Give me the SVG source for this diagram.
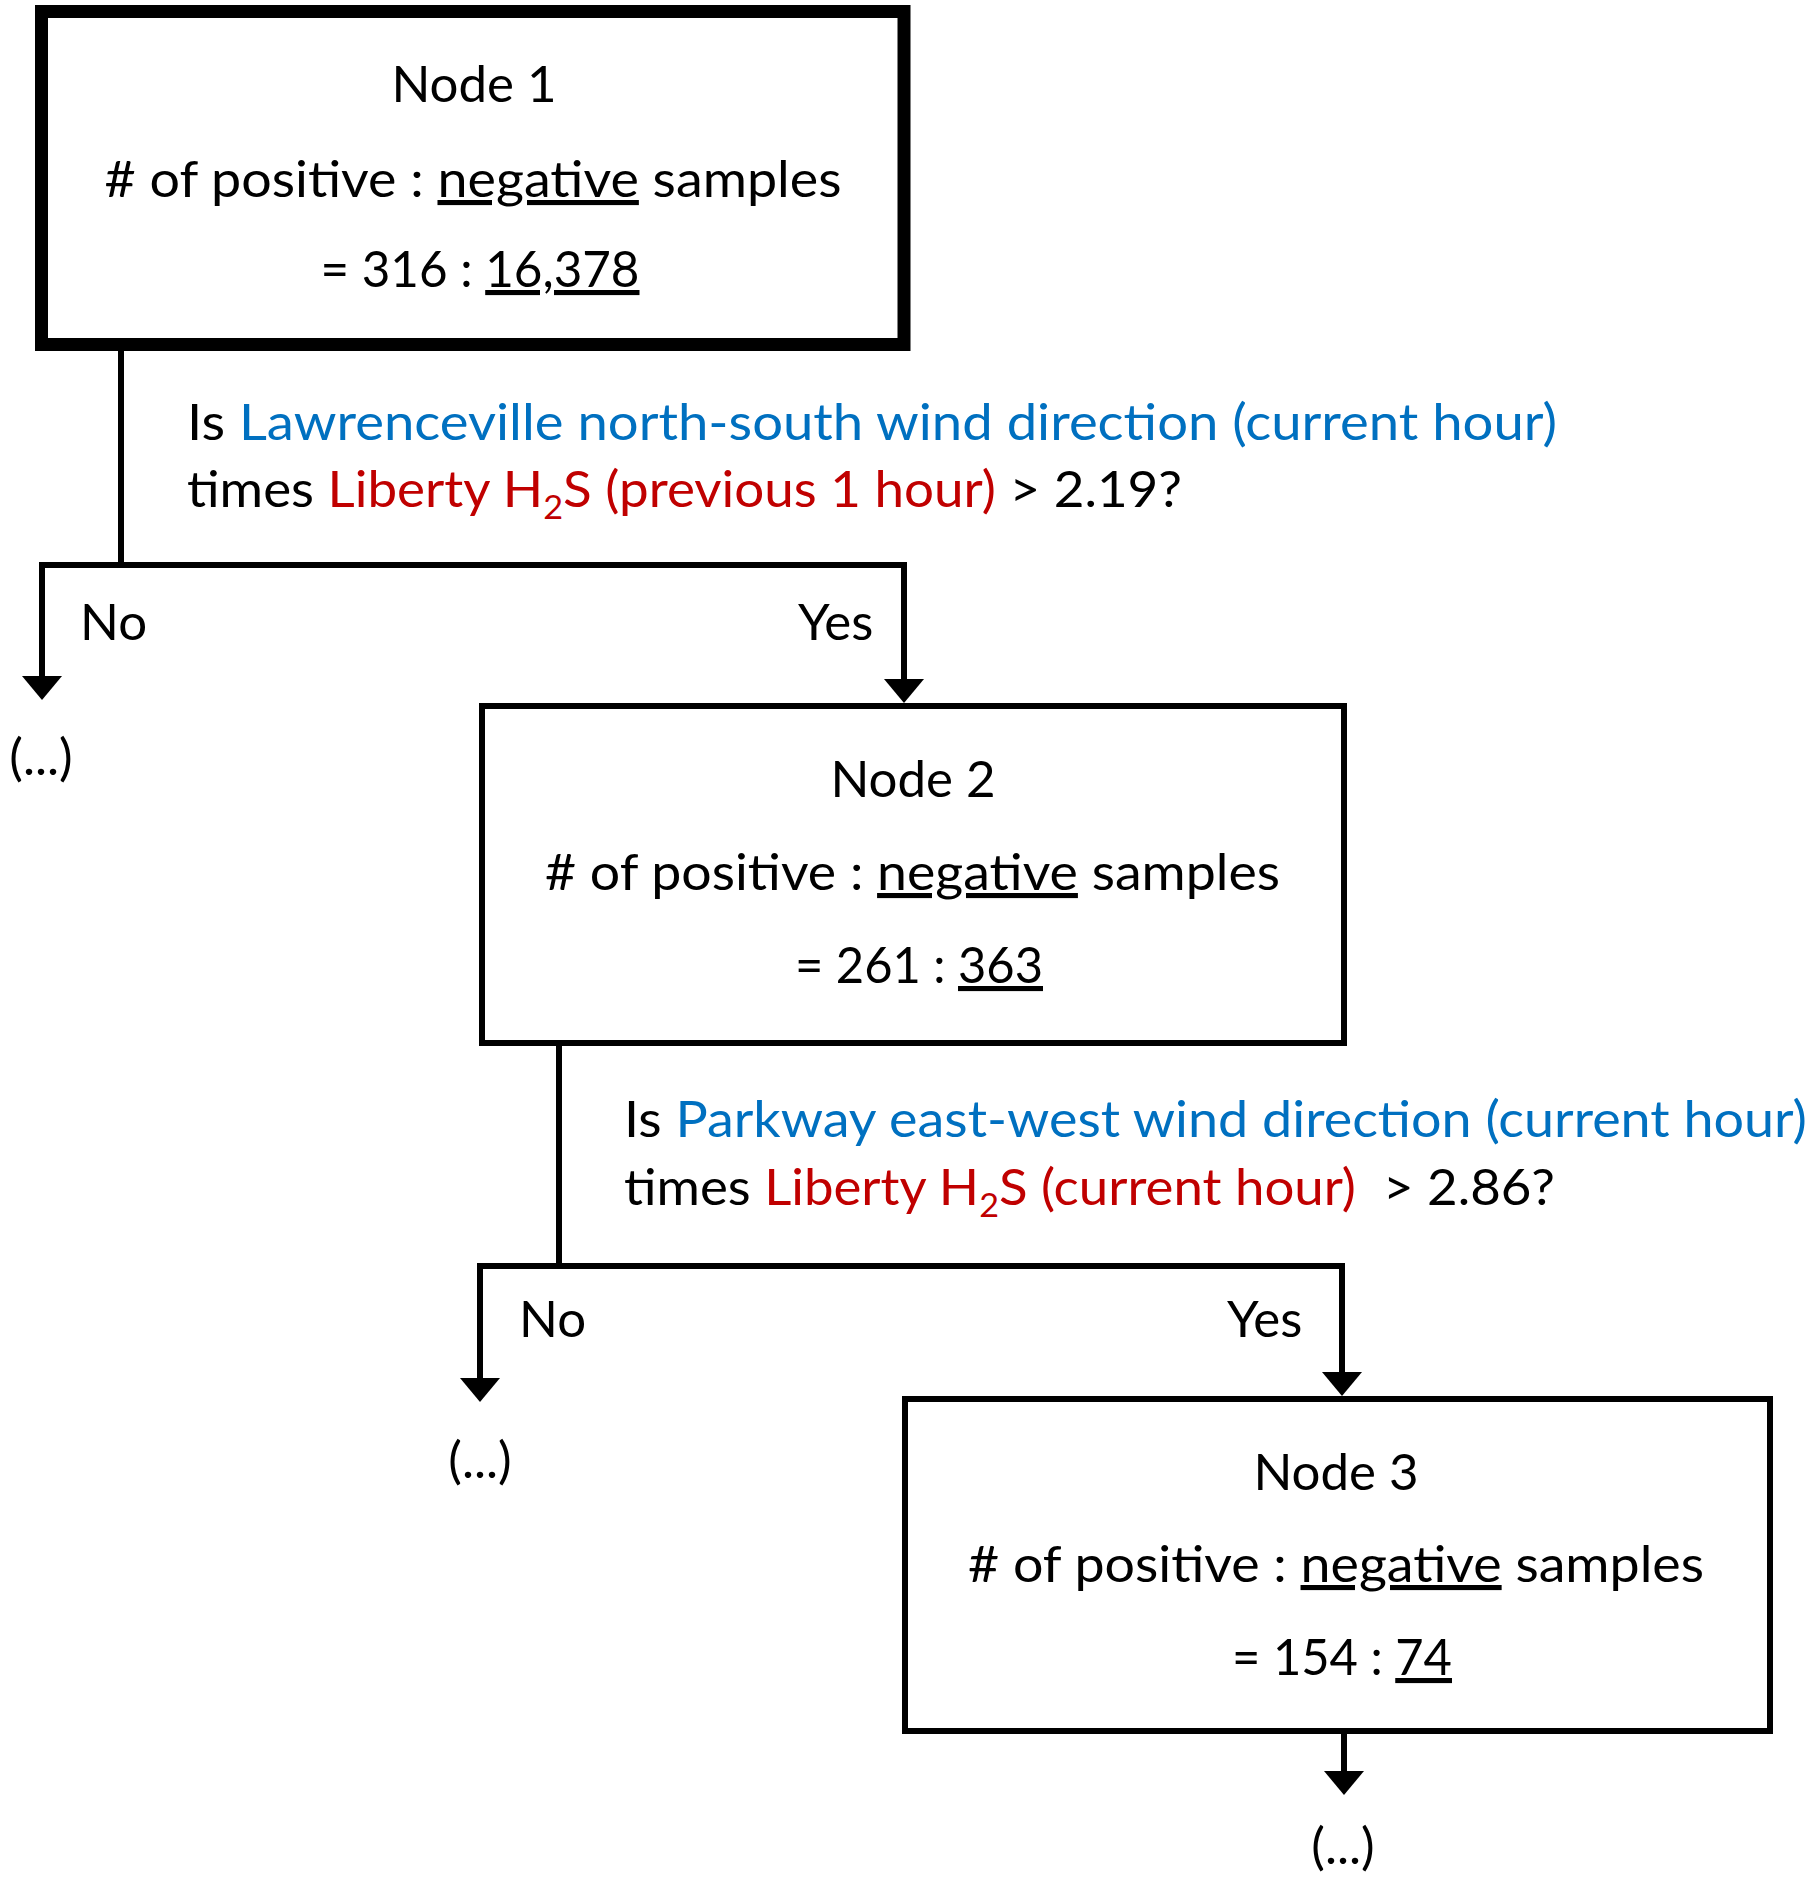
<svg xmlns="http://www.w3.org/2000/svg" width="1812" height="1879" viewBox="0 0 1812 1879">
<style>
text{font-family:Lato,"Liberation Sans",sans-serif;font-size:51px;fill:#000}
.c{text-anchor:middle}
.u{text-decoration:underline}
.b{fill:#0070C0}
.r{fill:#C00000}
.box{fill:#fff;stroke:#000}
.ln{fill:none;stroke:#000;stroke-width:6;stroke-linejoin:miter}
</style>
<defs>
<marker id="ah" markerUnits="userSpaceOnUse" viewBox="0 -20 24 40" markerWidth="24" markerHeight="40" refX="14" refY="0" orient="auto">
<path d="M0,-20 L24,0 L0,20 Z" fill="#000"/>
</marker>
</defs>
<rect width="1812" height="1879" fill="#fff"/>

<g id="connectors">
<path class="ln" d="M121,351 V565 H42 V690" marker-end="url(#ah)"/>
<path class="ln" d="M121,565 H904 V693" marker-end="url(#ah)"/>
<path class="ln" d="M559,1046 V1266 H480 V1392" marker-end="url(#ah)"/>
<path class="ln" d="M559,1266 H1342 V1386" marker-end="url(#ah)"/>
<path class="ln" d="M1344,1734 V1785" marker-end="url(#ah)"/>
</g>

<g id="node1">
<rect class="box" x="41.5" y="11.5" width="862.5" height="333" stroke-width="13"/>
<text class="c" x="474" y="102">Node 1</text>
<text class="c" x="473" y="197" textLength="737" lengthAdjust="spacingAndGlyphs"># of positive : <tspan class="u">negative</tspan> samples</text>
<text class="c" x="480" y="287" textLength="319" lengthAdjust="spacingAndGlyphs">= 316 : <tspan class="u">16,378</tspan></text>
</g>

<g id="split1">
<text x="187" y="440" textLength="1370" lengthAdjust="spacingAndGlyphs">Is <tspan class="b">Lawrenceville north-south wind direction (current hour)</tspan></text>
<text x="187" y="507" textLength="995" lengthAdjust="spacingAndGlyphs">times <tspan class="r">Liberty H</tspan><tspan class="r" dy="12" font-size="33">2</tspan><tspan class="r" dy="-12">S (previous 1 hour)</tspan> &gt; 2.19?</text>
<text x="80" y="640">No</text>
<text x="798" y="640">Yes</text>
</g>

<g id="leaf1">
<text class="c" x="41" y="775">(...)</text>
</g>

<g id="node2">
<rect class="box" x="482" y="706" width="862" height="337" stroke-width="6"/>
<text class="c" x="913" y="797">Node 2</text>
<text class="c" x="912.5" y="890" textLength="735" lengthAdjust="spacingAndGlyphs"># of positive : <tspan class="u">negative</tspan> samples</text>
<text class="c" x="919" y="983" textLength="248" lengthAdjust="spacingAndGlyphs">= 261 : <tspan class="u">363</tspan></text>
</g>

<g id="split2">
<text x="624" y="1137" textLength="1183" lengthAdjust="spacingAndGlyphs">Is <tspan class="b">Parkway east-west wind direction (current hour)</tspan></text>
<text x="624" y="1205" textLength="931" lengthAdjust="spacingAndGlyphs" xml:space="preserve">times <tspan class="r">Liberty H</tspan><tspan class="r" dy="12" font-size="33">2</tspan><tspan class="r" dy="-12">S (current hour)</tspan>  &gt; 2.86?</text>
<text x="519" y="1337">No</text>
<text x="1227" y="1337">Yes</text>
</g>

<g id="leaf2">
<text class="c" x="480" y="1478">(...)</text>
</g>

<g id="node3">
<rect class="box" x="905" y="1399" width="865" height="332" stroke-width="6"/>
<text class="c" x="1336" y="1490">Node 3</text>
<text class="c" x="1336" y="1582" textLength="736" lengthAdjust="spacingAndGlyphs"># of positive : <tspan class="u">negative</tspan> samples</text>
<text class="c" x="1342" y="1675" textLength="220" lengthAdjust="spacingAndGlyphs">= 154 : <tspan class="u">74</tspan></text>
</g>

<g id="leaf3">
<text class="c" x="1343" y="1864">(...)</text>
</g>
</svg>
